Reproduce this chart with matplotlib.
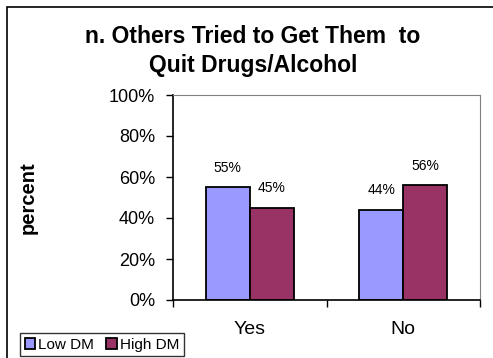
import matplotlib.pyplot as plt
import matplotlib.patches as mpatches
import numpy as np

plt.rcParams['font.family'] = ['Liberation Sans', 'DejaVu Sans']

categories = ['Yes', 'No']
low_dm = [55, 44]
high_dm = [45, 56]
series_names = ['Low DM', 'High DM']
colors = ['#9999FF', '#993366']
yticks = [0, 20, 40, 60, 80, 100]

W, H = 493, 358
fig = plt.figure(figsize=(W / 100, H / 100), dpi=100)

# outer chart frame
fig.patches.append(mpatches.Rectangle((7 / W, -0.1), 1.2, (H - 7) / H + 0.1,
                                      transform=fig.transFigure, fill=False,
                                      edgecolor='black', linewidth=1.2))

ax = fig.add_axes([173 / W, (H - 300) / H, 307 / W, 205 / H])

x = np.arange(len(categories))
bw = 0.287
b1 = ax.bar(x - bw / 2, low_dm, bw, color=colors[0], edgecolor='black',
            linewidth=1.3, label=series_names[0])
b2 = ax.bar(x + bw / 2, high_dm, bw, color=colors[1], edgecolor='black',
            linewidth=1.3, label=series_names[1])

for bars, vals in ((b1, low_dm), (b2, high_dm)):
    for rect, v in zip(bars, vals):
        ax.text(rect.get_x() + rect.get_width() / 2, v + 6, f'{v}%',
                ha='center', va='bottom', fontsize=10)

ax.set_xlim(-0.5, 1.5)
ax.set_ylim(0, 100)
ax.set_yticks(yticks)
ax.set_yticklabels([f'{t}%' for t in yticks], fontsize=13)
ax.tick_params(axis='y', length=5, width=1, pad=8)
ax.set_xticks(x)
ax.set_xticklabels(categories, fontsize=14)
ax.tick_params(axis='x', which='major', length=0, pad=15)
ax.set_xticks([-0.5, 0.5, 1.5], minor=True)
ax.tick_params(axis='x', which='minor', length=5, width=1)

for s in ('top', 'right'):
    ax.spines[s].set_color('#808080')
for s in ('left', 'bottom'):
    ax.spines[s].set_color('black')
    ax.spines[s].set_linewidth(1.2)

ax.set_ylabel('percent', fontsize=14.5, fontweight='bold')
ax.yaxis.set_label_coords((38 - 173) / 307, (300 - 198) / 205)

fig.text(253 / W, (H - 51) / H, 'n. Others Tried to Get Them  to\nQuit Drugs/Alcohol',
         ha='center', va='center', fontsize=16.5, fontweight='bold', linespacing=1.3)

leg = fig.legend(handles=[b1, b2], loc='upper left',
                 bbox_to_anchor=(20 / W, (H - 333) / H), ncol=2, fontsize=11,
                 frameon=True, fancybox=False, edgecolor='black',
                 handlelength=0.7, handleheight=0.7, handletextpad=0.2,
                 columnspacing=0.8, borderpad=0.3, borderaxespad=0)
leg.get_frame().set_linewidth(1.0)

fig.savefig('out.png', dpi=100)
